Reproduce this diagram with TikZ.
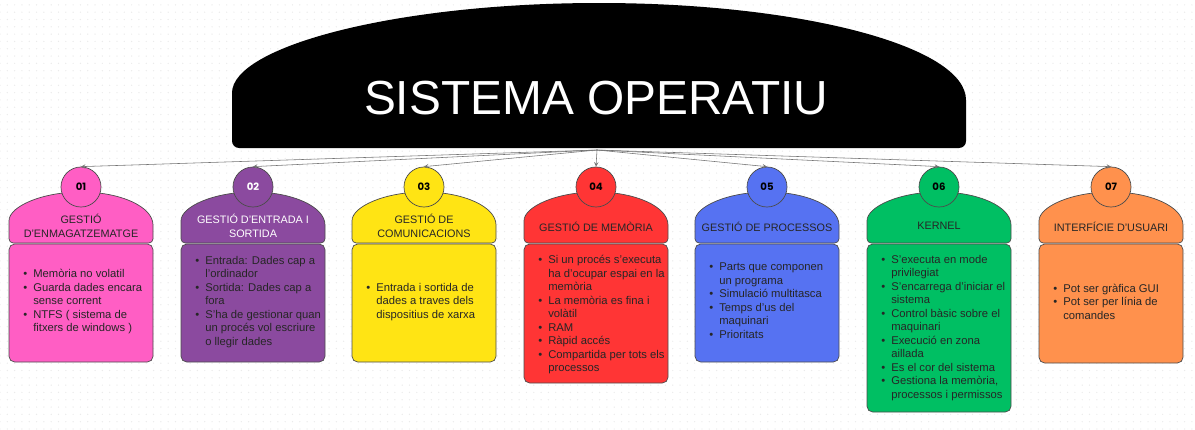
\documentclass[tikz,border=0pt]{standalone}
\usepackage{fontspec}
\setmainfont{Liberation Sans}
\newfontfamily\numfont{Poppins}
\usetikzlibrary{patterns.meta}

\definecolor{cpink}{HTML}{FF5EC4}
\definecolor{cpurple}{HTML}{8B4A9F}
\definecolor{cyellow}{HTML}{FFE414}
\definecolor{cred}{HTML}{FF3535}
\definecolor{cblue}{HTML}{5672F2}
\definecolor{cgreen}{HTML}{00BF63}
\definecolor{corange}{HTML}{FF914D}

\tikzdeclarepattern{
  name=bgdots,
  type=uncolored,
  bounding box={(-1pt,-1pt) and (1pt,1pt)},
  tile size={(5.2pt,5.2pt)},
  code={\fill (0pt,0pt) circle (0.5pt);}
}

\begin{document}
\begin{tikzpicture}[x=0.025cm, y=0.025cm,
  head/.style={draw=black!70, line width=0.5pt},
  body/.style={draw=black!70, line width=0.5pt, rounded corners=4pt},
  badge/.style={circle, draw=black!70, line width=0.5pt, minimum size=1cm, inner sep=0pt,
    font=\numfont\bfseries\fontsize{7.2}{8}\selectfont},
  headtxt/.style={align=center, font=\fontsize{7.7}{10}\selectfont, text=black!85},
  bodytxt/.style={anchor=west, inner sep=0pt, font=\fontsize{8}{9.6}\selectfont, text=black!85},
  link/.style={draw=black!55, line width=0.4pt, ->, >=stealth}]
  \useasboundingbox (0,0) rectangle (1195,-429);
  % dotted background
  \fill[pattern=bgdots, pattern color=black!8] (0,0) rectangle (1195,-429);

  % Title dome
  \fill[black] (232,-100) arc[start angle=180, end angle=0, x radius=367, y radius=97]
    [rounded corners=5pt] -- (966,-148) -- (232,-148) -- cycle;
  \node[font=\fontsize{34}{40}\selectfont, text=white] (title) at (596,-98) {SISTEMA OPERATIU};
  \coordinate (hub) at (597,-150);

  % Card 01
  \filldraw[head, fill=cpink] (9,-225) arc[start angle=180, end angle=0, x radius=72, y radius=33]
    [rounded corners=3pt] -- (153,-243) -- (9,-243) -- cycle;
  \filldraw[body, fill=cpink] (9,-244) rectangle (153,-362);
  \node[badge, fill=cpink] (n1) at (81,-187) {01};
  \node[headtxt] (h1) at (81,-226) {GESTIÓ\\D'ENMAGATZEMATGE};
  \node[bodytxt] (b1) at (23,-302) {\begin{tabular}{@{}c@{\hspace{4.3pt}}l@{}}
    \textbullet & Memòria no volatil\\
    \textbullet & Guarda dades encara\\
     & sense corrent\\
    \textbullet & NTFS ( sistema de\\
     & fitxers de windows )
  \end{tabular}};

  % Card 02
  \filldraw[head, fill=cpurple] (181,-225) arc[start angle=180, end angle=0, x radius=72, y radius=33]
    [rounded corners=3pt] -- (325,-243) -- (181,-243) -- cycle;
  \filldraw[body, fill=cpurple] (181,-244) rectangle (325,-362);
  \node[badge, fill=cpurple, text=white] (n2) at (253,-187) {02};
  \node[headtxt, text=white] (h2) at (253,-226) {GESTIÓ D’ENTRADA I\\SORTIDA};
  \node[bodytxt] (b2) at (195,-302) {\begin{tabular}{@{}c@{\hspace{4.3pt}}l@{}}
    \textbullet & Entrada: Dades cap a\\
     & l’ordinador\\
    \textbullet & Sortida: Dades cap a\\
     & fora\\
    \textbullet & S’ha de gestionar quan\\
     & un procés vol escriure\\
     & o llegir dades
  \end{tabular}};

  % Card 03
  \filldraw[head, fill=cyellow] (352,-225) arc[start angle=180, end angle=0, x radius=72, y radius=33]
    [rounded corners=3pt] -- (496,-243) -- (352,-243) -- cycle;
  \filldraw[body, fill=cyellow] (352,-244) rectangle (496,-362);
  \node[badge, fill=cyellow] (n3) at (424,-187) {03};
  \node[headtxt] (h3) at (424,-226) {GESTIÓ DE\\COMUNICACIONS};
  \node[bodytxt] (b3) at (366,-302) {\begin{tabular}{@{}c@{\hspace{4.3pt}}l@{}}
    \textbullet & Entrada i sortida de\\
     & dades a traves dels\\
     & dispositius de xarxa
  \end{tabular}};

  % Card 04
  \filldraw[head, fill=cred] (524,-225) arc[start angle=180, end angle=0, x radius=72, y radius=33]
    [rounded corners=3pt] -- (668,-243) -- (524,-243) -- cycle;
  \filldraw[body, fill=cred] (524,-244) rectangle (668,-383);
  \node[badge, fill=cred] (n4) at (596,-187) {04};
  \node[headtxt] (h4) at (596,-227) {GESTIÓ DE MEMÒRIA};
  \node[bodytxt] (b4) at (538,-315) {\begin{tabular}{@{}c@{\hspace{4.3pt}}l@{}}
    \textbullet & Si un procés s’executa\\
     & ha d’ocupar espai en la\\
     & memòria\\
    \textbullet & La memòria es fina i\\
     & volàtil\\
    \textbullet & RAM\\
    \textbullet & Ràpid accés\\
    \textbullet & Compartida per tots els\\
     & processos
  \end{tabular}};

  % Card 05
  \filldraw[head, fill=cblue] (695,-225) arc[start angle=180, end angle=0, x radius=72, y radius=33]
    [rounded corners=3pt] -- (839,-243) -- (695,-243) -- cycle;
  \filldraw[body, fill=cblue] (695,-244) rectangle (839,-362);
  \node[badge, fill=cblue] (n5) at (767,-187) {05};
  \node[headtxt] (h5) at (767,-227) {GESTIÓ DE PROCESSOS};
  \node[bodytxt] (b5) at (709,-302) {\begin{tabular}{@{}c@{\hspace{4.3pt}}l@{}}
    \textbullet & Parts que componen\\
     & un programa\\
    \textbullet & Simulació multitasca\\
    \textbullet & Temps d’us del\\
     & maquinari\\
    \textbullet & Prioritats
  \end{tabular}};

  % Card 06
  \filldraw[head, fill=cgreen] (867,-225) arc[start angle=180, end angle=0, x radius=72, y radius=33]
    [rounded corners=3pt] -- (1011,-243) -- (867,-243) -- cycle;
  \filldraw[body, fill=cgreen] (867,-244) rectangle (1011,-412);
  \node[badge, fill=cgreen] (n6) at (939,-187) {06};
  \node[headtxt] (h6) at (939,-226) {KERNEL};
  \node[bodytxt] (b6) at (881,-328) {\begin{tabular}{@{}c@{\hspace{4.3pt}}l@{}}
    \textbullet & S’executa en mode\\
     & privilegiat\\
    \textbullet & S’encarrega d’iniciar el\\
     & sistema\\
    \textbullet & Control bàsic sobre el\\
     & maquinari\\
    \textbullet & Execució en zona\\
     & aillada\\
    \textbullet & Es el cor del sistema\\
    \textbullet & Gestiona la memòria,\\
     & processos i permissos
  \end{tabular}};

  % Card 07
  \filldraw[head, fill=corange] (1039,-225) arc[start angle=180, end angle=0, x radius=72, y radius=33]
    [rounded corners=3pt] -- (1183,-243) -- (1039,-243) -- cycle;
  \filldraw[body, fill=corange] (1039,-244) rectangle (1183,-363);
  \node[badge, fill=corange] (n7) at (1111,-187) {07};
  \node[headtxt] (h7) at (1111,-227) {INTERFÍCIE D’USUARI};
  \node[bodytxt] (b7) at (1053,-303) {\begin{tabular}{@{}c@{\hspace{4.3pt}}l@{}}
    \textbullet & Pot ser gràfica GUI\\
    \textbullet & Pot ser per línia de\\
     & comandes
  \end{tabular}};

  % Links from title to cards
  \draw[link] (hub) -- (n1.north);
  \draw[link] (hub) -- (n2.north);
  \draw[link] (hub) -- (n3.north);
  \draw[link] (hub) -- (n4.north);
  \draw[link] (hub) -- (n5.north);
  \draw[link] (hub) -- (n6.north);
  \draw[link] (hub) -- (n7.north);
\end{tikzpicture}
\end{document}
